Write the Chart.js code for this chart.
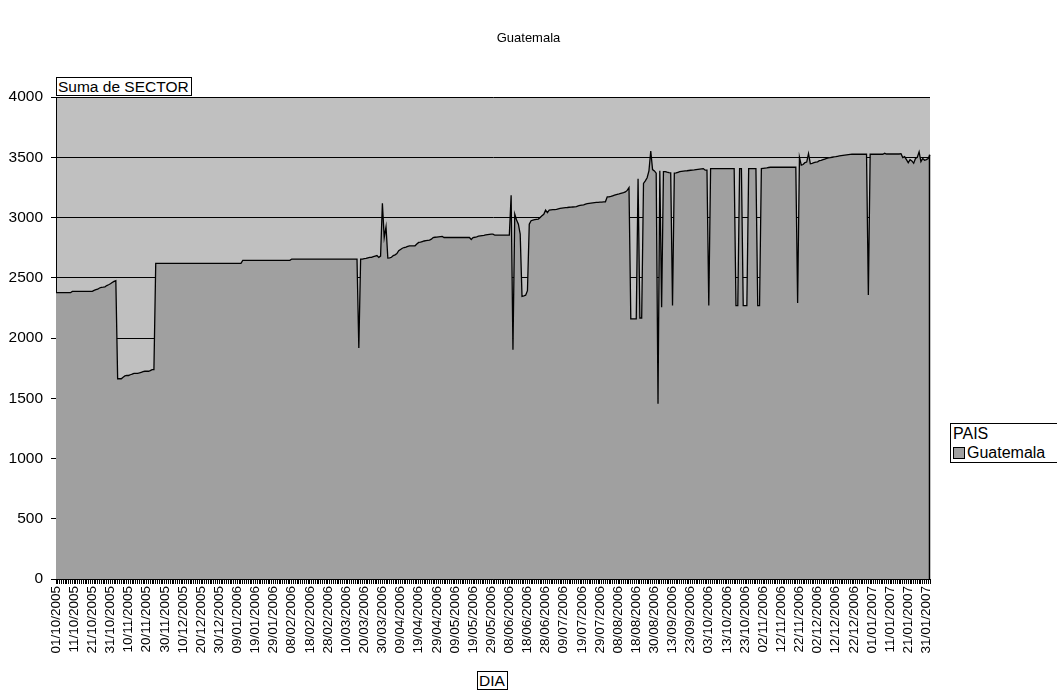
<!DOCTYPE html>
<html>
<head>
<meta charset="utf-8">
<script src="https://cdn.jsdelivr.net/npm/chart.js@4/dist/chart.umd.min.js"></script>
<style>
  html, body { margin: 0; padding: 0; background: #fff; }
  #wrap { position: relative; width: 1057px; height: 694px; font-family: "Liberation Sans", Arial, sans-serif; color: #000; }
  #myChart { position: absolute; left: 0; top: 0; }
  .box { position: absolute; border: 1px solid #000; background: #fff; white-space: nowrap; }
  #title { position: absolute; left: 0; width: 1057px; top: 30px; text-align: center; font-size: 13px; }
  #yname { left: 56px; top: 77px; font-size: 15.5px; padding: 0 2px 0 1px; line-height: 17px; }
  #xname { left: 477px; top: 671px; font-size: 15.5px; padding: 0 2px 0 1px; line-height: 17px; }
  #legend { left: 950px; top: 423px; width: 106px; font-size: 16px; }
  #legend .head { padding: 0 2px; line-height: 19px; }
  #legend .item { padding: 0 2px; line-height: 19px; }
  #legend .sw { display: inline-block; width: 10px; height: 10px; background: #a0a0a0; border: 1px solid #000; margin-right: 2px; vertical-align: -1px; }
</style>
</head>
<body>
<div id="wrap">
  <canvas id="myChart" width="1057" height="694"></canvas>
  <div id="title">Guatemala</div>
  <div class="box" id="yname">Suma de SECTOR</div>
  <div class="box" id="xname">DIA</div>
  <div class="box" id="legend">
    <div class="head">PAIS</div>
    <div class="item"><span class="sw"></span>Guatemala</div>
  </div>
</div>
<script>
  // first day and days with no record
  var startDay = new Date(2005, 9, 1);
  var missingDays = ['02/07/2006', '26/08/2006', '27/08/2006', '02/09/2006', '03/09/2006', '09/09/2006', '10/09/2006'];

  // Suma de SECTOR, one value per DIA (10 per line)
  var sector = [
    2376,2376,2376,2376,2376,2376,2376,2376,2376,2387,
    2387,2387,2387,2387,2387,2387,2387,2387,2387,2387,
    2387,2395,2401,2405,2415,2420,2422,2425,2435,2442,
    2450,2460,2470,2476,1662,1662,1662,1675,1685,1689,
    1689,1695,1700,1707,1707,1707,1710,1715,1720,1724,
    1724,1724,1730,1738,1738,2620,2620,2620,2620,2620,
    2620,2620,2620,2620,2620,2620,2620,2620,2620,2620,
    2620,2620,2620,2620,2620,2620,2620,2620,2620,2620,
    2620,2620,2620,2620,2620,2620,2620,2620,2620,2620,
    2620,2620,2620,2620,2620,2620,2620,2620,2620,2620,
    2620,2620,2620,2644,2644,2644,2644,2644,2644,2644,
    2644,2644,2644,2644,2644,2644,2644,2644,2644,2644,
    2644,2644,2644,2644,2644,2644,2644,2644,2644,2644,
    2655,2655,2655,2655,2655,2655,2655,2655,2655,2655,
    2655,2655,2655,2655,2655,2655,2655,2655,2655,2655,
    2655,2655,2655,2655,2655,2655,2655,2655,2655,2655,
    2655,2655,2655,2655,2655,2655,2655,1918,2655,2655,
    2658,2660,2665,2669,2669,2675,2680,2684,2669,2680,
    3119,2834,2923,2663,2665,2670,2684,2690,2700,2724,
    2735,2745,2751,2755,2760,2765,2765,2765,2765,2780,
    2793,2795,2800,2805,2808,2810,2812,2820,2834,2836,
    2838,2840,2842,2843,2834,2834,2834,2834,2834,2834,
    2834,2834,2834,2834,2834,2834,2834,2834,2834,2818,
    2834,2836,2840,2845,2848,2850,2852,2855,2858,2860,
    2862,2862,2853,2853,2853,2853,2853,2853,2853,2853,
    2853,3185,1902,3028,2980,2945,2862,2346,2350,2355,
    2393,2945,2973,2978,2982,2985,2987,3000,3014,3027,
    3061,3041,3061,3063,3065,3066,3068,3072,3075,3078,
    3080,3082,3083,3085,3086,3087,3088,3090,3097,3100,
    3103,3105,3111,3115,3118,3120,3122,3124,3125,3126,
    3127,3128,3129,3130,3171,3172,3175,3180,3185,3190,
    3193,3198,3202,3206,3212,3225,3248,2158,2158,2158,
    2158,3322,2166,2166,3283,3304,3330,3387,3552,3398,
    3387,3368,1455,3387,2255,3381,3381,3376,3372,3370,
    2269,3368,3370,3375,3380,3383,3385,3387,3388,3390,
    3392,3393,3395,3398,3400,3402,3404,3406,3393,3393,
    2269,3406,3406,3406,3406,3406,3406,3406,3406,3406,
    3406,3406,3406,3406,3406,2269,2269,3406,3406,2269,
    2269,2269,3406,3406,3406,3406,3406,2269,2269,3406,
    3408,3410,3412,3415,3417,3417,3417,3417,3417,3417,
    3417,3417,3417,3417,3417,3417,3417,3417,3417,2291,
    3500,3434,3440,3455,3460,3530,3447,3450,3455,3460,
    3462,3472,3475,3480,3485,3490,3495,3497,3500,3503,
    3505,3508,3511,3513,3515,3517,3519,3521,3523,3525,
    3525,3525,3525,3525,3525,3525,3525,3525,2357,3525,
    3525,3525,3525,3525,3525,3525,3525,3533,3527,3527,
    3527,3527,3527,3527,3527,3527,3530,3497,3505,3480,
    3455,3480,3470,3450,3490,3500,3545,3464,3490,3475,
    3480,3490,3520
  ];

  function fmt(d) {
    var dd = ('0' + d.getDate()).slice(-2);
    var mm = ('0' + (d.getMonth() + 1)).slice(-2);
    return dd + '/' + mm + '/' + d.getFullYear();
  }

  var dias = [];
  var d = new Date(startDay);
  while (dias.length < sector.length) {
    var s = fmt(d);
    if (missingDays.indexOf(s) < 0) dias.push(s);
    d.setDate(d.getDate() + 1);
  }

  var plotFrame = {
    id: 'plotFrame',
    beforeDraw: function (chart) {
      var a = chart.chartArea, ctx = chart.ctx;
      ctx.save();
      ctx.fillStyle = '#c0c0c0';
      ctx.fillRect(a.left, a.top, a.right - a.left, a.bottom - a.top);
      ctx.restore();
    },
    afterDatasetsDraw: function (chart) {
      var a = chart.chartArea, ctx = chart.ctx;
      ctx.save();
      ctx.strokeStyle = '#000';
      ctx.lineWidth = 1.5;
      ctx.beginPath();
      ctx.moveTo(a.right - 0.5, chart.scales.y.getPixelForValue(sector[sector.length - 1]));
      ctx.lineTo(a.right - 0.5, a.bottom);
      ctx.stroke();
      ctx.restore();
    }
  };

  new Chart('myChart', {
    type: 'line',
    data: {
      labels: dias,
      datasets: [{
        label: 'Guatemala',
        data: sector,
        borderColor: '#000',
        borderWidth: 1.3,
        backgroundColor: '#a0a0a0',
        fill: 'origin',
        pointRadius: 0,
        tension: 0
      }]
    },
    options: {
      responsive: false,
      animation: false,
      layout: { padding: { left: 0, top: 97, right: 127, bottom: 0 } },
      plugins: { legend: { display: false }, title: { display: false }, tooltip: { enabled: false } },
      scales: {
        x: {
          offset: false,
          grid: { drawOnChartArea: false, color: '#000', tickLength: 5 },
          border: { color: '#000', width: 1 },
          ticks: {
            autoSkip: false,
            minRotation: 90,
            maxRotation: 90,
            padding: 2,
            color: '#000',
            font: { family: 'Liberation Sans', size: 13.5 },
            callback: function (v, i) { return i % 10 === 0 ? dias[i] : ''; }
          },
          afterFit: function (scale) { scale.height = 115; }
        },
        y: {
          min: 0,
          max: 4000,
          grid: { color: '#000', lineWidth: 1, tickLength: 5 },
          border: { color: '#000', width: 1 },
          ticks: {
            stepSize: 500,
            padding: 8,
            color: '#000',
            font: { family: 'Liberation Sans', size: 15.5 },
            callback: function (v) { return String(v); }
          },
          afterFit: function (scale) { scale.width = 56; }
        }
      }
    },
    plugins: [plotFrame]
  });
</script>
</body>
</html>
